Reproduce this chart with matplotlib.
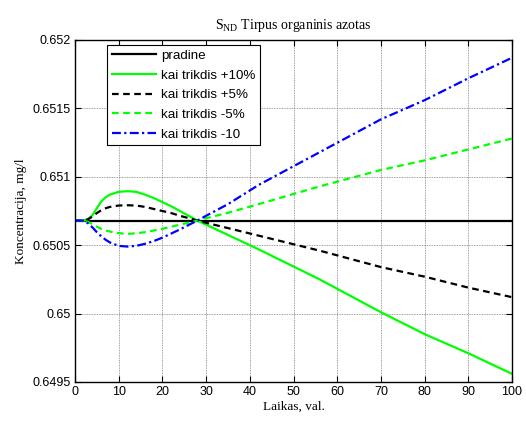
import matplotlib
matplotlib.use("Agg")
import matplotlib.pyplot as plt

t = [0, 2, 3, 4, 5, 6, 7, 8, 10, 12, 14, 16, 18, 20, 22, 24, 26, 28, 30, 35, 42, 56, 70, 80, 90, 100]
pradine = [0.65068] * len(t)
plus10 = [0.65068, 0.65068, 0.65069, 0.65072, 0.65077, 0.65082, 0.65085, 0.65087, 0.65089, 0.650895,
          0.65089, 0.65087, 0.650845, 0.650815, 0.650785, 0.65075, 0.650715, 0.65068, 0.65065, 0.650575,
          0.65047, 0.65025, 0.65001, 0.64985, 0.64971, 0.64956]
plus5 = [0.65068, 0.65068, 0.65069, 0.65071, 0.650735, 0.650755, 0.65077, 0.65078, 0.65079, 0.650792,
         0.65079, 0.65078, 0.650765, 0.65075, 0.650735, 0.650715, 0.650698, 0.65068, 0.650664, 0.650625,
         0.65057, 0.65046, 0.65034, 0.65027, 0.65019, 0.65012]
minus5 = [0.65068, 0.65068, 0.65067, 0.650655, 0.650635, 0.65062, 0.650608, 0.6506, 0.650588, 0.650583,
          0.650587, 0.650595, 0.650607, 0.65062, 0.650635, 0.65065, 0.650665, 0.65068, 0.650697, 0.650737,
          0.65080, 0.65093, 0.65105, 0.65112, 0.65120, 0.65128]
minus10 = [0.65068, 0.65068, 0.65066, 0.65063, 0.650595, 0.650565, 0.65054, 0.65052, 0.650495, 0.65049,
           0.650495, 0.65051, 0.65053, 0.650555, 0.650585, 0.650615, 0.650648, 0.65068, 0.650715, 0.6508,
           0.65094, 0.65118, 0.65142, 0.65156, 0.65172, 0.65187]

labels = ["pradine", "kai trikdis +10%", "kai trikdis +5%", "kai trikdis -5%", "kai trikdis -10"]
xticks = list(range(0, 101, 10))
yticks = [0.6495, 0.65, 0.6505, 0.651, 0.6515, 0.652]
yticklabels = ["0.6495", "0.65", "0.6505", "0.651", "0.6515", "0.652"]

fig = plt.figure(figsize=(5.26, 4.22), dpi=100)
ax = fig.add_axes([75/526, 1-382/422, (512-75)/526, (382-40)/422])

green = "#00FF00"
ax.plot(t, pradine, color="black", lw=1.6, label=labels[0])
ax.plot(t, plus10, color=green, lw=1.6, label=labels[1])
ax.plot(t, plus5, color="black", lw=1.6, ls=(0, (3, 2)), label=labels[2])
ax.plot(t, minus5, color=green, lw=1.6, ls=(0, (3, 2)), label=labels[3])
ax.plot(t, minus10, color="blue", lw=1.6, ls=(0, (4, 1.5, 1, 1.5)), label=labels[4])

ax.set_xlim(0, 100)
ax.set_ylim(0.6495, 0.652)
ax.set_xticks(xticks)
ax.set_xticklabels([str(x) for x in xticks], family="Liberation Sans", fontsize=9)
ax.set_yticks(yticks)
ax.set_yticklabels(yticklabels, family="Liberation Sans", fontsize=9)
ax.tick_params(direction="in", top=True, right=True, length=4, width=0.8, pad=3)
ax.grid(True, color="#808080", lw=0.6, ls=(0, (1, 1)))
for s in ax.spines.values():
    s.set_linewidth(1.0)

ax.set_title(r"S$_{\mathregular{ND}}$ Tirpus organinis azotas", family="Liberation Serif", fontsize=10, pad=8)
ax.set_xlabel("Laikas, val.", family="Liberation Serif", fontsize=9.5, labelpad=2)
ax.set_ylabel("Koncentracija, mg/l", family="Liberation Serif", fontsize=9.5, labelpad=4)

leg = ax.legend(loc="upper left", bbox_to_anchor=(0.073, 0.985), prop={"family": "Liberation Sans", "size": 9.6},
                frameon=True, fancybox=False, edgecolor="black", framealpha=1, borderpad=0.35,
                labelspacing=0.55, handlelength=3.3, handletextpad=0.4, borderaxespad=0)
leg.get_frame().set_linewidth(0.8)

fig.savefig("out.png", dpi=100)
